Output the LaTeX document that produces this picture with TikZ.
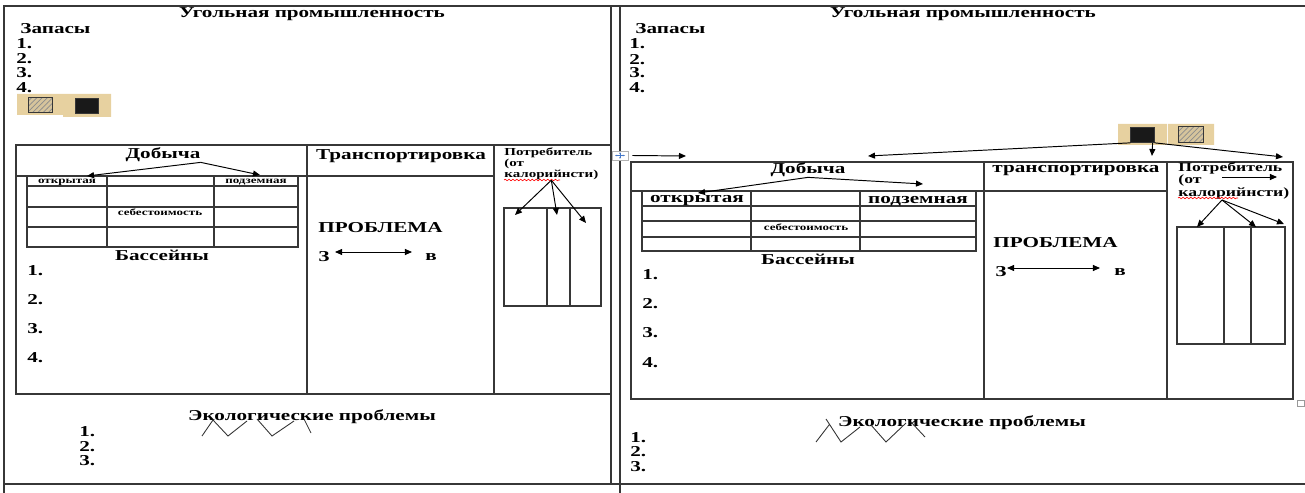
\documentclass[tikz,border=0pt]{standalone}
\usepackage{fontspec}
\setmainfont{Liberation Serif}[FakeStretch=1.4]
\usetikzlibrary{arrows.meta,patterns,decorations.pathmorphing}
\definecolor{swtan}{RGB}{231,209,160}
\definecolor{hatch}{RGB}{214,196,156}
\definecolor{frm}{RGB}{55,55,55}
\definecolor{handle}{RGB}{70,120,200}

\begin{document}
\begin{tikzpicture}[x=0.02cm,y=-0.02cm,
    tx/.style={inner sep=0pt,font=\bfseries\fontsize{8.6}{10}\selectfont},
    lbl/.style={inner sep=0pt,font=\bfseries\fontsize{6.1}{7}\selectfont},
    lblR/.style={inner sep=0pt,font=\bfseries\fontsize{7.2}{8}\selectfont},
    mini/.style={inner sep=0pt,font=\bfseries\fontsize{5.3}{6}\selectfont},
    grid/.style={draw=frm,line width=0.9pt},
    sub/.style={draw=frm,line width=0.7pt},
    swblk/.style={draw=frm,fill=black!90,inner sep=0pt,minimum width=0.47cm,minimum height=0.3cm},
    swhat/.style={draw=frm,preaction={fill=hatch},pattern=north east lines,pattern color=black!45,inner sep=0pt,minimum width=0.49cm,minimum height=0.31cm},
    arr/.style={-{Triangle[length=4pt,width=3.4pt]},line width=0.55pt},
    darr/.style={{Triangle[length=4pt,width=3.4pt]}-{Triangle[length=4pt,width=3.4pt]},line width=0.55pt},
    zig/.style={line width=0.5pt,draw=black!80},
    spell/.style={red,line width=0.35pt,decorate,decoration={snake,amplitude=0.45pt,segment length=2.2pt}}]
    \useasboundingbox (0,0) rectangle (1305,493);

    % page frame
    \draw[frm,line width=0.9pt] (4,493) -- (4,6) -- (1305,6) (4,484) -- (1305,484)
        (611,6) -- (611,484) (620,6) -- (620,493);

    %%%% left sheet
    \node[tx] (titL) at (312,14) {Угольная промышленность};
    \node[tx,anchor=west] (zapL) at (20,29) {Запасы};
    \foreach \i/\y in {1/44,2/59,3/73,4/88}
        \node[tx,anchor=west] (zL\i) at (16,\y) {\i.};
    \fill[swtan] (17,94) rectangle (63,115) (63,94) rectangle (111,117);
    \node[swhat] (hatL) at (40.5,105) {};
    \node[swblk] (blkL) at (87,105.5) {};

    \draw[grid] (16,145) rectangle (611,394) (307,145) -- (307,394) (494,145) -- (494,394) (16,176) -- (494,176);
    \draw[sub] (27,176) rectangle (298,247) foreach \y in {186,207,227} {(27,\y) -- (298,\y)}
        (107,176) -- (107,247) (214,176) -- (214,247);

    \node[tx] (dobL) at (163,155) {Добыча};
    \node[mini] (otkL) at (67,182) {открытая};
    \node[mini] (podL) at (256,182) {подземная};
    \node[mini] (sebL) at (160,212) {себестоимость};
    \coordinate (otkLt) at (87,176);
    \coordinate (podLt) at (260,175);
    \draw[arr] (dobL.south east) -- (otkLt);
    \draw[arr] (dobL.south east) -- (podLt);
    \node[tx] (basL) at (162,255) {Бассейны};
    \foreach \i/\y in {1/271,2/300,3/329,4/358}
        \node[tx,anchor=west] (bL\i) at (27,\y) {\i.};

    \node[tx] (trL) at (401,156) {Транспортировка};
    \node[tx,anchor=west] (prL) at (318,228) {ПРОБЛЕМА};
    \node[tx,anchor=west] (wL) at (318,257) {З};
    \node[tx,anchor=west] (eL) at (425,257) {в};
    \coordinate (wLa) at (335,252);
    \coordinate (eLa) at (412,252);
    \draw[darr] (wLa) -- (eLa);

    \node[lbl,anchor=west] (potL) at (504,153) {Потребитель};
    \node[lbl,anchor=west] (otL) at (504,164) {(от};
    \node[lbl,anchor=west] (kalL) at (504,175) {калорийнсти)};
    \draw[spell] (504,180) -- (560,180);
    \draw[sub] (504,208) rectangle (601,306) (547,208) -- (547,306) (570,208) -- (570,306);
    \coordinate (kL1) at (515,215);
    \coordinate (kL2) at (557,215);
    \coordinate (kL3) at (586,223);
    \foreach \t in {kL1,kL2,kL3}
        \draw[arr] (kalL.south) -- (\t);

    \node[tx] (ecoL) at (312,417) {Экологические проблемы};
    \foreach \i/\y in {1/432,2/447,3/461}
        \node[tx,anchor=west] (eL\i) at (79,\y) {\i.};
    \draw[zig] (202,436) -- (213,420) -- (228,436) -- (247,421)
        (257,419) -- (272,436) -- (294,421) (304,419) -- (311,433);

    %%%% right sheet
    \node[tx] (titR) at (963,14) {Угольная промышленность};
    \node[tx,anchor=west] (zapR) at (635,29) {Запасы};
    \foreach \i/\y in {1/44,2/60,3/73,4/88}
        \node[tx,anchor=west] (zR\i) at (629,\y) {\i.};
    \fill[swtan] (1118,124) rectangle (1167,145) (1168,124) rectangle (1214,145);
    \node[swblk] (blkR) at (1142.5,135) {};
    \node[swhat] (hatR) at (1191,134.5) {};

    % table handle
    \node[draw=black!30,fill=white,inner sep=0pt,minimum width=0.32cm,minimum height=0.18cm] (mv) at (620,155.5) {};
    \draw[handle,line width=0.4pt,{Stealth[length=1.2pt]}-{Stealth[length=1.2pt]}] ([xshift=-0.1cm]mv.center) -- ([xshift=0.1cm]mv.center);
    \draw[handle,line width=0.4pt,{Stealth[length=1.2pt]}-{Stealth[length=1.2pt]}] ([yshift=-0.07cm]mv.center) -- ([yshift=0.07cm]mv.center);
    \coordinate (mvT) at (686,156);
    \draw[arr] ([xshift=0.08cm]mv.east) -- (mvT);

    \coordinate (dobTop) at (868,156);
    \coordinate (trTop) at (1152,156);
    \coordinate (potTop) at (1283,157);
    \draw[arr] (blkR.south west) -- (dobTop);
    \draw[arr] ([xshift=-0.04cm]blkR.south east) -- (trTop);
    \draw[arr] (blkR.south east) -- (potTop);

    \draw[grid] (631,162) rectangle (1293,399) (984,162) -- (984,399) (1167,162) -- (1167,399) (631,191) -- (1167,191);
    \draw[black!40,fill=white,line width=0.4pt] (1297,400) rectangle (1304,406);
    \draw[sub] (642,191) rectangle (976,251) foreach \y in {206,221,237} {(642,\y) -- (976,\y)}
        (751,191) -- (751,251) (860,191) -- (860,251);

    \node[tx] (dobR) at (808,170) {Добыча};
    \node[tx] (otkR) at (697,201) {открытая};
    \node[tx] (podR) at (918,201) {подземная};
    \node[mini] (sebR) at (806,227) {себестоимость};
    \coordinate (otkRt) at (698,193);
    \coordinate (podRt) at (923,184);
    \draw[arr] (dobR.south) -- (otkRt);
    \draw[arr] (dobR.south) -- (podRt);
    \node[tx] (basR) at (808,259) {Бассейны};
    \foreach \i/\y in {1/275,2/304,3/333,4/363}
        \node[tx,anchor=west] (bR\i) at (642,\y) {\i.};

    \node[tx] (trR) at (1076,171) {транспортировка};
    \node[tx,anchor=west] (prR) at (993,243) {ПРОБЛЕМА};
    \node[tx,anchor=west] (wR) at (995,272) {З};
    \node[tx,anchor=west] (eR) at (1114,272) {в};
    \coordinate (wRa) at (1007,268);
    \coordinate (eRa) at (1100,268);
    \draw[darr] (wRa) -- (eRa);

    \node[lblR,anchor=west] (potR) at (1178,168) {Потребитель};
    \node[lblR,anchor=west] (otR) at (1178,180) {(от};
    \node[lblR,anchor=west] (kalR) at (1178,193) {калорийнсти)};
    \draw[spell] (1178,198) -- (1238,198);
    \coordinate (potA) at (1222,177);
    \coordinate (potB) at (1277,177);
    \draw[arr] (potA) -- (potB);
    \draw[sub] (1177,227) rectangle (1285,344) (1224,227) -- (1224,344) (1251,227) -- (1251,344);
    \coordinate (kR0) at (1222,200);
    \coordinate (kR1) at (1197,227);
    \coordinate (kR2) at (1256,227);
    \coordinate (kR3) at (1284,224);
    \foreach \t in {kR1,kR2,kR3}
        \draw[arr] (kR0) -- (\t);

    \node[tx] (ecoR) at (962,423) {Экологические проблемы};
    \foreach \i/\y in {1/438,2/452,3/467}
        \node[tx,anchor=west] (eR\i) at (630,\y) {\i.};
    \draw[zig] (816,442) -- (829,425) (826,419) -- (841,442) -- (860,427)
        (871,425) -- (886,442) -- (906,423) (911,422) -- (925,437);
\end{tikzpicture}
\end{document}
